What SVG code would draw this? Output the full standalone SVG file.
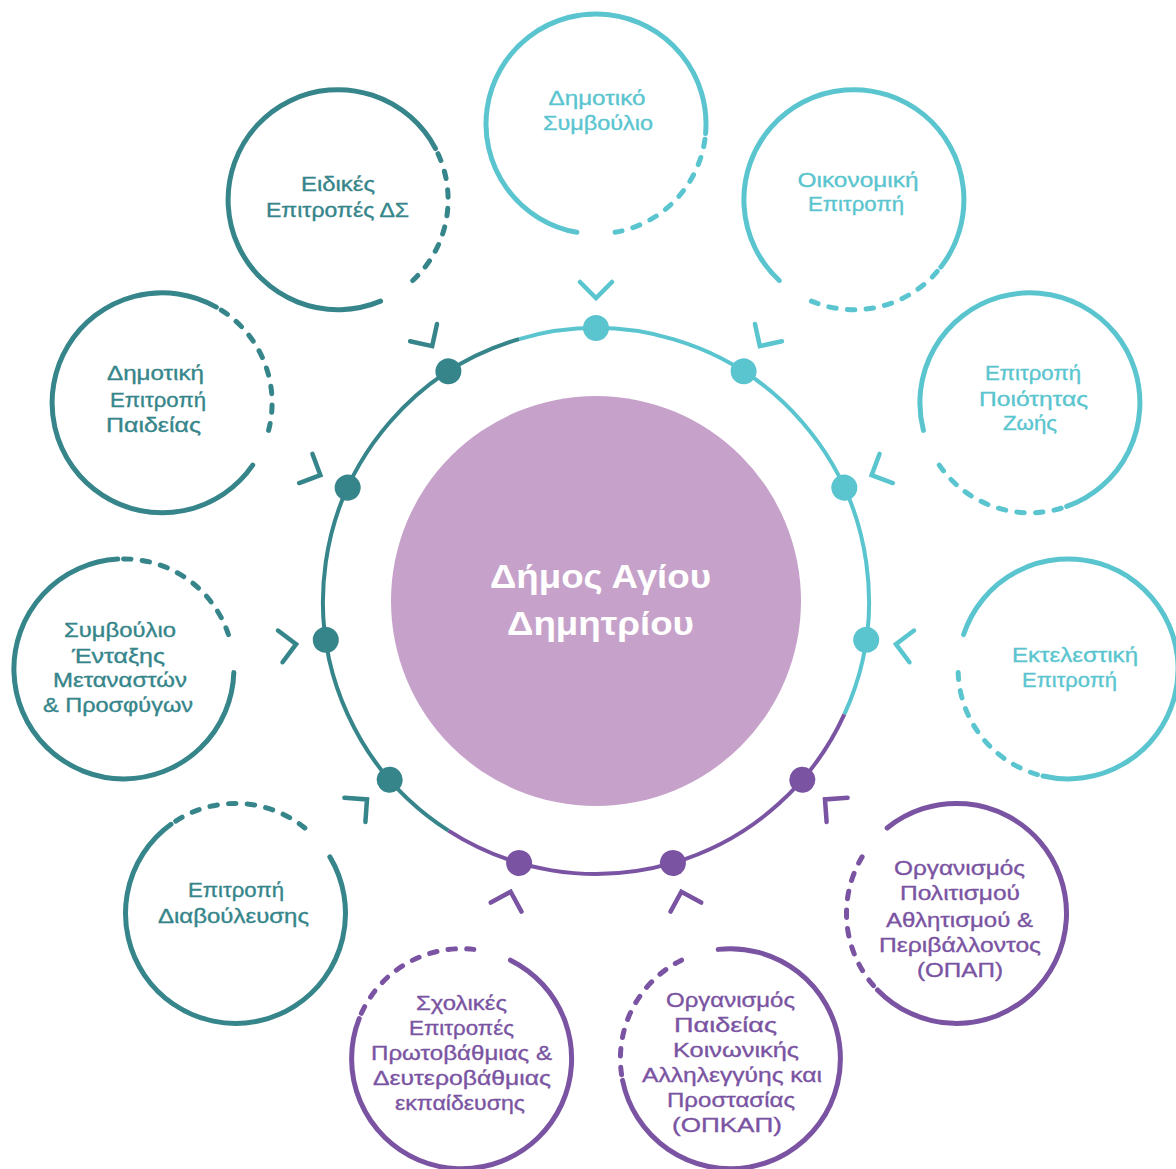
<svg xmlns="http://www.w3.org/2000/svg" xmlns:xlink="http://www.w3.org/1999/xlink" width="1176" height="1169" viewBox="0 0 1176 1169">
<style>
.cy{stroke:#5ac5cf;fill:none}
.tl{stroke:#35858a;fill:none}
.pu{stroke:#7a54a2;fill:none}
.ring{stroke-width:4}
.sat{stroke-width:5;stroke-linecap:round;fill:none}
.dash{stroke-dasharray:7.5 11.2}
.chev{stroke-width:4.5;stroke-linecap:round;stroke-linejoin:miter;fill:none}
.dcy{fill:#5ac5cf}.dtl{fill:#35858a}.dpu{fill:#7a54a2}
text{font-family:"Liberation Sans","Noto Sans",sans-serif;font-size:20px;text-anchor:middle;stroke-width:0.35}
.tcy{fill:#5ac5cf;stroke:#5ac5cf}.ttl{fill:#35858a;stroke:#35858a}.tpu{fill:#7a54a2;stroke:#7a54a2}
.tc{fill:#ffffff;font-weight:bold;font-size:34px}
</style>
<defs>
<g id="arcs">
<path class="sat" d="M -19.10 108.33 A 110 110 0 1 1 109.58 9.59"/>
<path class="sat dash" d="M 108.93 15.31 A 110 110 0 0 1 19.10 108.33"/>
</g>
<path id="chev" d="M580,282 L596,298 L612,282"/>
<circle id="dot" cx="596" cy="328" r="13"/>
</defs>
<rect width="1176" height="1169" fill="#ffffff"/>

<g id="connectors">
<path class="ring cy" d="M519.10,339.06 A273,273 0 0 1 844.32,714.42"/>
<path class="ring pu" d="M844.32,714.42 A273,273 0 0 1 448.42,830.67"/>
<path class="ring tl" d="M448.42,830.67 A273,273 0 0 1 519.10,339.06"/>
<g class="cy chev">
<use xlink:href="#chev" href="#chev"/>
<use xlink:href="#chev" href="#chev" transform="rotate(32.727 596 601)"/>
<use xlink:href="#chev" href="#chev" transform="rotate(65.455 596 601)"/>
<use xlink:href="#chev" href="#chev" transform="rotate(98.182 596 601)"/>
</g>
<g class="pu chev">
<use xlink:href="#chev" href="#chev" transform="rotate(130.909 596 601)"/>
<use xlink:href="#chev" href="#chev" transform="rotate(163.636 596 601)"/>
<use xlink:href="#chev" href="#chev" transform="rotate(196.364 596 601)"/>
</g>
<g class="tl chev">
<use xlink:href="#chev" href="#chev" transform="rotate(229.091 596 601)"/>
<use xlink:href="#chev" href="#chev" transform="rotate(261.818 596 601)"/>
<use xlink:href="#chev" href="#chev" transform="rotate(294.545 596 601)"/>
<use xlink:href="#chev" href="#chev" transform="rotate(327.273 596 601)"/>
</g>
<g class="dcy">
<use xlink:href="#dot" href="#dot"/>
<use xlink:href="#dot" href="#dot" transform="rotate(32.727 596 601)"/>
<use xlink:href="#dot" href="#dot" transform="rotate(65.455 596 601)"/>
<use xlink:href="#dot" href="#dot" transform="rotate(98.182 596 601)"/>
</g>
<g class="dpu">
<use xlink:href="#dot" href="#dot" transform="rotate(130.909 596 601)"/>
<use xlink:href="#dot" href="#dot" transform="rotate(163.636 596 601)"/>
<use xlink:href="#dot" href="#dot" transform="rotate(196.364 596 601)"/>
</g>
<g class="dtl">
<use xlink:href="#dot" href="#dot" transform="rotate(229.091 596 601)"/>
<use xlink:href="#dot" href="#dot" transform="rotate(261.818 596 601)"/>
<use xlink:href="#dot" href="#dot" transform="rotate(294.545 596 601)"/>
<use xlink:href="#dot" href="#dot" transform="rotate(327.273 596 601)"/>
</g>
</g>

<g id="center">
<circle cx="596" cy="601" r="205" fill="#c6a2ca"/>
<text class="tc" x="600.5" y="588" textLength="221" lengthAdjust="spacingAndGlyphs">Δήμος Αγίου</text>
<text class="tc" x="600.5" y="635" textLength="187" lengthAdjust="spacingAndGlyphs">Δημητρίου</text>
</g>

<g id="node-dimotiko-symvoulio">
<use xlink:href="#arcs" href="#arcs" class="cy" transform="translate(596 124)"/>
<text class="tcy" x="597" y="105" textLength="97" lengthAdjust="spacingAndGlyphs">Δημοτικό</text>
<text class="tcy" x="598" y="130" textLength="110" lengthAdjust="spacingAndGlyphs">Συμβούλιο</text>
</g>

<g id="node-oikonomiki">
<use xlink:href="#arcs" href="#arcs" class="cy" transform="translate(853.9 199.7) rotate(32.727)"/>
<text class="tcy" x="858" y="187" textLength="121" lengthAdjust="spacingAndGlyphs">Οικονομική</text>
<text class="tcy" x="856" y="211" textLength="96" lengthAdjust="spacingAndGlyphs">Επιτροπή</text>
</g>

<g id="node-poiotita-zois">
<use xlink:href="#arcs" href="#arcs" class="cy" transform="translate(1029.9 402.8) rotate(65.455)"/>
<text class="tcy" x="1033" y="380" textLength="96" lengthAdjust="spacingAndGlyphs">Επιτροπή</text>
<text class="tcy" x="1033.5" y="406" textLength="109" lengthAdjust="spacingAndGlyphs">Ποιότητας</text>
<text class="tcy" x="1030" y="430" textLength="54" lengthAdjust="spacingAndGlyphs">Ζωής</text>
</g>

<g id="node-ektelestiki">
<use xlink:href="#arcs" href="#arcs" class="cy" transform="translate(1068.1 668.9) rotate(98.182)"/>
<text class="tcy" x="1075" y="662" textLength="126" lengthAdjust="spacingAndGlyphs">Εκτελεστική</text>
<text class="tcy" x="1069.5" y="687" textLength="95" lengthAdjust="spacingAndGlyphs">Επιτροπή</text>
</g>

<g id="node-opap">
<use xlink:href="#arcs" href="#arcs" class="pu" transform="translate(956.5 913.4) rotate(130.909)"/>
<text class="tpu" x="959.5" y="875" textLength="131" lengthAdjust="spacingAndGlyphs">Οργανισμός</text>
<text class="tpu" x="960" y="900" textLength="120" lengthAdjust="spacingAndGlyphs">Πολιτισμού</text>
<text class="tpu" x="959.5" y="927" textLength="147" lengthAdjust="spacingAndGlyphs">Αθλητισμού &amp;</text>
<text class="tpu" x="960" y="952" textLength="162" lengthAdjust="spacingAndGlyphs">Περιβάλλοντος</text>
<text class="tpu" x="960" y="977" textLength="86" lengthAdjust="spacingAndGlyphs">(ΟΠΑΠ)</text>
</g>

<g id="node-opkap">
<use xlink:href="#arcs" href="#arcs" class="pu" transform="translate(730.4 1058.7) rotate(163.636)"/>
<text class="tpu" x="730.5" y="1007" textLength="129" lengthAdjust="spacingAndGlyphs">Οργανισμός</text>
<text class="tpu" x="725.5" y="1032" textLength="103" lengthAdjust="spacingAndGlyphs">Παιδείας</text>
<text class="tpu" x="736" y="1057" textLength="126" lengthAdjust="spacingAndGlyphs">Κοινωνικής</text>
<text class="tpu" x="732" y="1082" textLength="180" lengthAdjust="spacingAndGlyphs">Αλληλεγγύης και</text>
<text class="tpu" x="731" y="1107" textLength="128" lengthAdjust="spacingAndGlyphs">Προστασίας</text>
<text class="tpu" x="727" y="1132" textLength="110" lengthAdjust="spacingAndGlyphs">(ΟΠΚΑΠ)</text>
</g>

<g id="node-scholikes">
<use xlink:href="#arcs" href="#arcs" class="pu" transform="translate(461.6 1058.7) rotate(196.364)"/>
<text class="tpu" x="461.5" y="1010" textLength="91" lengthAdjust="spacingAndGlyphs">Σχολικές</text>
<text class="tpu" x="461.5" y="1035" textLength="105" lengthAdjust="spacingAndGlyphs">Επιτροπές</text>
<text class="tpu" x="461.5" y="1060" textLength="181" lengthAdjust="spacingAndGlyphs">Πρωτοβάθμιας &amp;</text>
<text class="tpu" x="462" y="1085" textLength="178" lengthAdjust="spacingAndGlyphs">Δευτεροβάθμιας</text>
<text class="tpu" x="460" y="1110" textLength="130" lengthAdjust="spacingAndGlyphs">εκπαίδευσης</text>
</g>

<g id="node-diavoulefsi">
<use xlink:href="#arcs" href="#arcs" class="tl" transform="translate(235.5 913.4) rotate(229.091)"/>
<text class="ttl" x="236" y="897" textLength="96" lengthAdjust="spacingAndGlyphs">Επιτροπή</text>
<text class="ttl" x="233.5" y="923" textLength="151" lengthAdjust="spacingAndGlyphs">Διαβούλευσης</text>
</g>

<g id="node-entaxi">
<use xlink:href="#arcs" href="#arcs" class="tl" transform="translate(123.9 668.9) rotate(261.818)"/>
<text class="ttl" x="120" y="637" textLength="112" lengthAdjust="spacingAndGlyphs">Συμβούλιο</text>
<text class="ttl" x="118.5" y="663" textLength="93" lengthAdjust="spacingAndGlyphs">Ένταξης</text>
<text class="ttl" x="120" y="687" textLength="134" lengthAdjust="spacingAndGlyphs">Μεταναστών</text>
<text class="ttl" x="118" y="712" textLength="150" lengthAdjust="spacingAndGlyphs">&amp; Προσφύγων</text>
</g>

<g id="node-paideia">
<use xlink:href="#arcs" href="#arcs" class="tl" transform="translate(162.1 402.8) rotate(294.545)"/>
<text class="ttl" x="155.5" y="380" textLength="97" lengthAdjust="spacingAndGlyphs">Δημοτική</text>
<text class="ttl" x="158" y="407" textLength="96" lengthAdjust="spacingAndGlyphs">Επιτροπή</text>
<text class="ttl" x="153.5" y="432" textLength="95" lengthAdjust="spacingAndGlyphs">Παιδείας</text>
</g>

<g id="node-eidikes">
<use xlink:href="#arcs" href="#arcs" class="tl" transform="translate(338.1 199.7) rotate(327.273)"/>
<text class="ttl" x="338" y="191" textLength="74" lengthAdjust="spacingAndGlyphs">Ειδικές</text>
<text class="ttl" x="337.5" y="217" textLength="143" lengthAdjust="spacingAndGlyphs">Επιτροπές ΔΣ</text>
</g>
</svg>
